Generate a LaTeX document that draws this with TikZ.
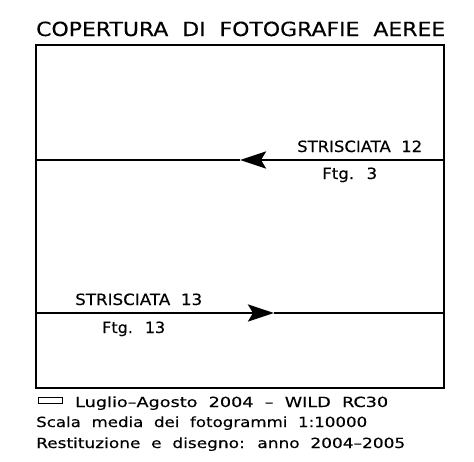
\documentclass[tikz,border=0pt]{standalone}
\usepackage{fontspec}
\setmainfont{DejaVu Sans}[WordSpace=2,FakeBold=0.3]
\usetikzlibrary{arrows.meta}
\newcommand{\fitw}[2]{\resizebox{#1}{\height}{#2}}
\begin{document}
\begin{tikzpicture}[x=1pt,y=-1pt,
        lab/.style={anchor=base west,inner sep=0pt,font=\fontsize{15.5}{15.5}\selectfont},
        small/.style={anchor=base west,inner sep=0pt,font=\fontsize{14}{14}\selectfont},
        strip/.style={line width=2.8pt},
        head/.style={-{Stealth[length=26pt,width=17pt,inset=5pt]}}]
    \useasboundingbox (0,0) rectangle (474,461);
    \node[lab,font=\fontsize{19.5}{19.5}\selectfont] (title) at (36,36) {\fitw{409pt}{COPERTURA DI FOTOGRAFIE AEREE}};
    \draw[line width=1.4pt] (36,45) rectangle (444,388);
    \foreach \n/\y/\t in {12/160/240, 13/313/274} {
            \coordinate (l\n) at (36,\y);
            \coordinate (r\n) at (444,\y);
            \coordinate (t\n) at (\t,\y);
        }
    \draw[strip,head] (r12) -- (t12);
    \draw[strip] (t12) -- (l12);
    \draw[strip,head] (l13) -- (t13);
    \draw[strip] (t13) -- (r13);
    \node[lab] (s12) at (297,152) {\fitw{125pt}{STRISCIATA 12}};
    \node[lab] (f12) at (322,179) {\fitw{55pt}{Ftg. 3}};
    \node[lab] (s13) at (75,305) {\fitw{127pt}{STRISCIATA 13}};
    \node[lab] (f13) at (102,333) {\fitw{63pt}{Ftg. 13}};
    \draw[line width=1pt] (38,397) rectangle (62,403);
    \node[small] (volo) at (75,407) {\fitw{313pt}{Luglio--Agosto 2004 -- WILD RC30}};
    \node[small] (scala) at (36,427) {\fitw{331pt}{Scala media dei fotogrammi 1:10000}};
    \node[small] (rest) at (36,448) {\fitw{369pt}{Restituzione e disegno: anno 2004--2005}};
\end{tikzpicture}
\end{document}
